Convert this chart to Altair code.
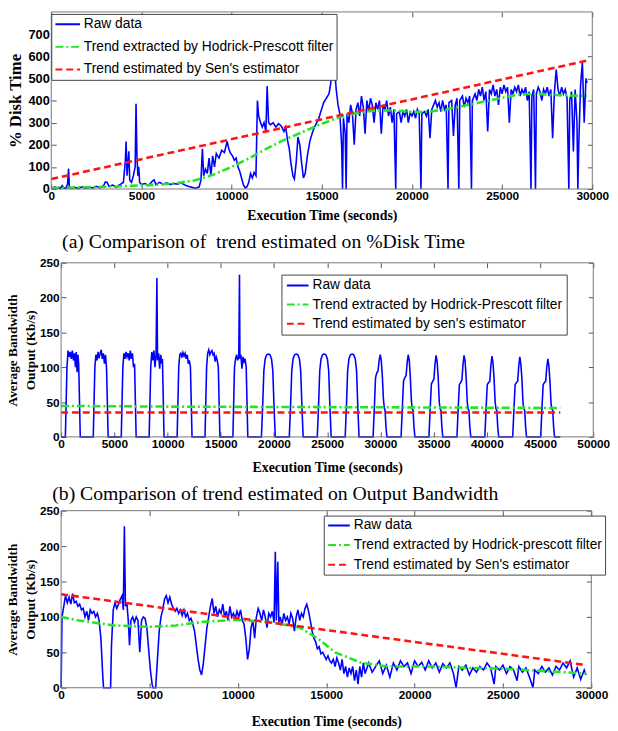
import altair as alt
import pandas as pd

BLUE = "#0000ff"
GREEN = "#22e622"
RED = "#ff1414"
DASHES = [[1, 0], [8, 3, 2, 3], [7, 4]]

# ---------------- Panel (a): %Disk Time ----------------
a_names = ["Raw data", "Trend extracted by Hodrick-Prescott filter", "Trend estimated by Sen's estimator"]
a_raw_x = [0, 100, 200, 300, 400, 500, 600, 700, 800, 900, 960, 1000, 1100, 1300, 1500, 1700, 1900, 2100, 2300, 2500,
           2700, 2900, 3000, 3100, 3200, 3400, 3600, 3800, 4000, 4100, 4150, 4200, 4300, 4350, 4450, 4550, 4650, 4700,
           4750, 4800, 4850, 4900, 5000, 5200, 5400, 5600, 5700, 5800, 6000, 6200, 6400, 6600, 6800, 7000, 7200, 7400,
           7600, 7800, 8000, 8200, 8300, 8380, 8450, 8550, 8650, 8750, 8850, 8950, 9050, 9150, 9300, 9450, 9600, 9750,
           9850, 9950, 10050, 10150, 10250, 10350, 10450, 10550, 10650, 10750, 10850, 10950, 11050, 11150, 11250, 11350,
           11430, 11500, 11600, 11700, 11800, 11900, 11970, 12050, 12150, 12300, 12450, 12600, 12750, 12900, 13000,
           13100, 13200, 13300, 13400, 13480, 13580, 13680, 13780, 13880, 13980, 14080, 14200, 14350, 14500, 14650,
           14800, 14950, 15100, 15250, 15400, 15500, 15560, 15620, 15700, 15800, 15900, 16000, 16100, 16150, 16200,
           16300, 16350, 16400, 16500, 16600, 16700, 16800, 16900, 17000, 17100, 17200, 17300, 17400, 17500, 17600,
           17700, 17800, 17900, 18000, 18100, 18200, 18300, 18400, 18500, 18600, 18700, 18800, 18900, 19000, 19100,
           19150, 19300, 19400, 19500, 19600, 19700, 19800, 19900, 20000, 20100, 20200, 20300, 20400, 20500, 20550,
           20700, 20800, 20900, 21000, 21100, 21200, 21300, 21400, 21500, 21600, 21700, 21800, 21900, 22000, 22050,
           22200, 22300, 22400, 22500, 22600, 22650, 22800, 22900, 23000, 23100, 23200, 23300, 23350, 23500, 23600,
           23700, 23800, 23900, 24000, 24100, 24200, 24300, 24400, 24500, 24600, 24700, 24800, 24900, 25000, 25100,
           25200, 25300, 25400, 25500, 25600, 25700, 25800, 25900, 26000, 26100, 26200, 26300, 26400, 26500, 26600,
           26650, 26750, 26850, 26900, 27000, 27100, 27200, 27300, 27400, 27500, 27600, 27700, 27800, 27900, 28000,
           28100, 28200, 28300, 28400, 28500, 28600, 28700, 28750, 28850, 28950, 29050, 29150, 29200, 29250, 29350,
           29450, 29550, 29650, 29700]
a_raw_y = [5, 2, 10, 3, 8, 2, 15, 5, 3, 20, 92, 10, 3, 8, 2, 10, 3, 8, 5, 12,
           5, 15, 32, 30, 12, 18, 8, 20, 30, 120, 215, 60, 170, 40, 30, 60, 100, 385,
           150, 60, 100, 30, 20, 25, 15, 35, 42, 20, 30, 22, 28, 20, 25, 22, 28, 18,
           12, 8, 3, 10, 40, 182, 60, 90, 70, 140, 60, 150, 100, 160, 140, 175, 165, 215,
           180, 160, 150, 130, 140, 100, 80, 50, 20, 5, 10, 30, 70, 50, 75, 60,
           400, 330, 300, 280, 300, 260, 465, 300, 290, 300, 280, 295, 285, 260, 280,
           220, 180, 110, 60, 45, 120, 235, 200, 120, 50, 70, 150, 220, 260, 290,
           310, 350, 390, 410, 430, 480, 605, 520, 550, 450, 380, 340, 200, 0, 320,
           250, 0, 340, 300, 380, 340, 200, 360, 390, 330, 420, 370, 250, 400, 350,
           410, 380, 300, 390, 360, 400, 250, 380, 360, 400, 330, 370, 300, 360, 0,
           340, 350, 300, 350, 330, 360, 300, 345, 330, 350, 320, 360, 340, 0, 340,
           350, 330, 360, 230, 360, 380, 400, 370, 390, 350, 400, 360, 380, 0, 390,
           400, 240, 380, 410, 0, 400, 420, 370, 410, 390, 420, 0, 400, 430, 400,
           450, 420, 460, 400, 440, 260, 450, 430, 470, 420, 450, 380, 460, 430, 470,
           440, 460, 300, 450, 430, 460, 440, 470, 420, 450, 430, 460, 400, 440, 0,
           420, 450, 0, 430, 460, 440, 400, 450, 430, 460, 420, 450, 230, 440, 540,
           450, 420, 460, 430, 450, 410, 0, 400, 440, 170, 450, 300, 0, 200, 470,
           572, 300, 500, 480]
a_hp_x = [0, 2000, 4000, 6000, 7000, 8000, 9000, 10000, 11000, 12000, 13000, 14000, 15000, 16000, 17000, 18000,
          19000, 20000, 21000, 22000, 23000, 24000, 25000, 26000, 27000, 28000, 29000, 29700]
a_hp_y = [5, 8, 13, 20, 27, 40, 65, 100, 140, 185, 225, 260, 295, 325, 345, 355,
          355, 348, 350, 362, 378, 395, 412, 428, 430, 425, 422, 420]
a_sen_x = [0, 29700]
a_sen_y = [45, 580]

# ---------------- Panel (b): Output Bandwidth ----------------
b_names = ["Raw data", "Trend extracted by Hodrick-Prescott filter", "Trend estimated by sen's estimator"]
b_raw_x = [0, 400, 550, 650, 750, 850, 950, 1050, 1150, 1250, 1350, 1420, 1500, 1580, 1650, 1800,
           3020, 3170, 3270, 3370, 3470, 3570, 3670, 3770, 3870, 3970, 4070, 4170, 4270, 4420,
           5650, 5800, 5900, 6000, 6100, 6200, 6300, 6400, 6500, 6600, 6700, 6800, 6900, 7050,
           8270, 8420, 8520, 8620, 8720, 8820, 8920, 9000, 9060, 9160, 9260, 9360, 9460, 9520, 9670,
           10900, 11050, 11150, 11250, 11350, 11450, 11550, 11650, 11750, 11850, 11950, 12050, 12150, 12300,
           13520, 13670, 13770, 13870, 13970, 14070, 14170, 14270, 14370, 14470, 14570, 14670, 14770, 14920,
           16140, 16290, 16390, 16490, 16590, 16690, 16760, 16800, 16890, 16990, 17090, 17190, 17290, 17390, 17540,
           18820, 18950, 19050, 19170, 19320, 19470, 19620, 19770, 19890, 19990, 20120,
           21440, 21570, 21670, 21790, 21940, 22090, 22240, 22390, 22510, 22610, 22740,
           24070, 24200, 24300, 24420, 24570, 24720, 24870, 25020, 25140, 25240, 25370,
           26690, 26820, 26920, 27040, 27190, 27340, 27490, 27640, 27760, 27860, 27990,
           29310, 29440, 29540, 29660, 29780, 29880, 29980, 30080, 30180, 30280, 30360, 30440, 30520, 30610,
           31940, 32070, 32170, 32290, 32410, 32510, 32610, 32710, 32810, 32910, 32990, 33070, 33150, 33240,
           34560, 34690, 34790, 34910, 35030, 35130, 35230, 35330, 35430, 35530, 35610, 35690, 35770, 35860,
           37190, 37320, 37420, 37540, 37660, 37760, 37860, 37960, 38060, 38160, 38240, 38320, 38400, 38490,
           39810, 39940, 40040, 40160, 40280, 40380, 40480, 40580, 40680, 40780, 40860, 40940, 41020, 41110,
           42430, 42560, 42660, 42780, 42900, 43000, 43100, 43200, 43300, 43400, 43480, 43560, 43640, 43730,
           45060, 45190, 45290, 45410, 45530, 45630, 45730, 45830, 45930, 46030, 46110, 46190, 46270, 46360, 46900]
b_raw_y = [0, 0, 100, 124, 115, 122, 112, 124, 110, 120, 100, 122, 93, 118, 105, 0,
           0, 100, 118, 110, 122, 113, 120, 125, 112, 120, 105, 118, 98, 0,
           0, 100, 120, 112, 122, 115, 120, 110, 124, 112, 120, 100, 105, 0,
           0, 100, 122, 110, 124, 100, 118, 228, 110, 120, 98, 118, 105, 112, 0,
           0, 100, 118, 120, 114, 121, 116, 120, 112, 118, 105, 110, 100, 0,
           0, 100, 120, 125, 118, 122, 124, 118, 120, 108, 115, 110, 100, 0,
           0, 100, 112, 118, 110, 115, 233, 112, 118, 98, 115, 108, 112, 100, 0,
           0, 50, 95, 112, 118, 119, 118, 112, 95, 50, 0,
           0, 50, 95, 112, 118, 119, 118, 112, 95, 50, 0,
           0, 50, 95, 112, 118, 119, 118, 112, 95, 50, 0,
           0, 50, 95, 112, 118, 119, 118, 112, 95, 50, 0,
           0, 45, 85, 92, 95, 110, 118, 110, 88, 55, 42, 38, 15, 0,
           0, 45, 80, 85, 88, 106, 118, 110, 86, 52, 40, 38, 15, 0,
           0, 45, 76, 80, 83, 105, 117, 108, 85, 50, 40, 38, 15, 0,
           0, 45, 75, 78, 82, 104, 117, 108, 84, 50, 40, 38, 15, 0,
           0, 45, 75, 78, 80, 103, 116, 106, 83, 50, 40, 38, 15, 0,
           0, 45, 75, 78, 80, 102, 115, 104, 82, 48, 40, 38, 15, 0,
           0, 45, 75, 78, 80, 100, 112, 102, 80, 48, 40, 38, 15, 0, 0]
b_hp_x = [0, 10000, 20000, 30000, 40000, 46900]
b_hp_y = [44.5, 43.5, 43, 42.5, 42, 41.5]
b_sen_x = [0, 46900]
b_sen_y = [35, 35]

# ---------------- Panel (c): Output Bandwidth ----------------
c_names = ["Raw data", "Trend extracted by Hodrick-prescott filter", "Trend estimated by Sen's estimator"]
c_raw_x = [0, 50, 150, 250, 350, 450, 550, 650, 750, 850, 950, 1050, 1150, 1250, 1350, 1450, 1550, 1650, 1750,
           1850, 1950, 2050, 2150, 2250, 2350, 2400, 2800, 2850, 2950, 3050, 3150, 3250, 3350, 3450, 3520, 3580,
           3640, 3720, 3800, 3870, 3950, 4050, 4150, 4250, 4350, 4450, 4550, 4650, 4750, 4850, 4950, 5050, 5150,
           5200, 5350, 5450, 5550, 5650, 5750, 5850, 5950, 6050, 6150, 6250, 6350, 6450, 6550, 6650, 6750, 6850,
           6950, 7050, 7150, 7250, 7350, 7450, 7550, 7650, 7750, 7850, 7950, 8050, 8150, 8250, 8350, 8450, 8550,
           8650, 8750, 8850, 8950, 9050, 9150, 9250, 9350, 9450, 9550, 9650, 9750, 9850, 9950, 10050, 10150, 10250,
           10350, 10450, 10550, 10650, 10750, 10850, 10950, 11050, 11150, 11250, 11350, 11450, 11550, 11650, 11750,
           11850, 11950, 12050, 12120, 12180, 12260, 12320, 12400, 12500, 12600, 12700, 12800, 12900, 13000, 13100,
           13200, 13300, 13400, 13500, 13600, 13700, 13800, 13900, 14000, 14100, 14200, 14300, 14400, 14500, 14600,
           14700, 14800, 14900, 15000, 15100, 15200, 15300, 15400, 15500, 15600, 15700, 15800, 15900, 16000, 16100,
           16200, 16300, 16400, 16500, 16600, 16700, 16800, 16900, 17000, 17100, 17200, 17400, 17600, 17800, 18000,
           18200, 18400, 18600, 18800, 19000, 19200, 19400, 19600, 19800, 20000, 20200, 20400, 20600, 20800, 21000,
           21200, 21400, 21600, 21800, 22000, 22200, 22350, 22500, 22700, 22900, 23100, 23300, 23500, 23700, 23900,
           24100, 24300, 24500, 24600, 24800, 25000, 25200, 25400, 25600, 25800, 25900, 26100, 26300, 26500, 26700,
           26800, 27000, 27200, 27400, 27600, 27800, 28000, 28200, 28400, 28600, 28800, 29000, 29200, 29400, 29600,
           29700]
c_raw_y = [0, 100, 115, 130, 120, 128, 118, 133, 120, 122, 115, 118, 110, 112, 100, 108, 95, 110, 105,
           108, 100, 105, 95, 70, 20, 0, 0, 60, 110, 120, 112, 118, 125, 130, 110, 228,
           115, 120, 95, 60, 95, 100, 92, 100, 95, 50, 95, 100, 98, 85, 55, 25, 5,
           0, 0, 40, 80, 100, 110, 125, 130, 120, 128, 118, 112, 108, 112, 105, 110, 102,
           110, 100, 105, 95, 98, 90, 80, 60, 40, 25, 18, 35, 60, 85, 100, 115, 126,
           105, 115, 100, 110, 105, 118, 100, 108, 95, 115, 100, 105, 98, 108, 100, 110, 95,
           90, 70, 40, 55, 85, 95, 70, 100, 112, 105, 95, 110, 100, 85, 105,
           100, 108, 92, 192, 95, 178, 92, 100, 88, 105, 95, 100, 90, 105, 98,
           80, 100, 110, 95, 105, 100, 112, 118, 108, 95, 80, 70, 65, 55, 58,
           48, 50, 45, 40, 45, 38, 35, 40, 30, 42, 35, 25, 40, 20, 30,
           15, 28, 20, 30, 10, 25, 5, 30, 15, 35, 20, 35, 22, 30, 38,
           20, 32, 15, 35, 25, 38, 30, 35, 20, 38, 30, 36, 25, 38, 28,
           35, 22, 34, 28, 35, 20, 0, 30, 25, 32, 18, 28, 22, 30, 25,
           35, 28, 5, 30, 25, 32, 20, 30, 25, 10, 30, 22, 28, 15, 0,
           25, 20, 30, 22, 28, 18, 30, 25, 35, 28, 38, 15, 28, 12, 25,
           18]
c_hp_x = [0, 1000, 3000, 5000, 6500, 8000, 10000, 12000, 13500, 14500, 15500, 17000, 18500, 21000, 23000, 25000,
          27000, 29700]
c_hp_y = [100, 95, 88, 86, 88, 93, 96, 92, 85, 70, 50, 35, 30, 30, 28, 27, 24, 20]
c_sen_x = [0, 29700]
c_sen_y = [132, 32]

LABEL_FONT = "Liberation Sans"
TITLE_FONT = "Liberation Serif"
FRAME = "#777777"


def panel(raw_x, raw_y, hp_x, hp_y, sen_x, sen_y, names, w, h, xmax, xticks, ymax, yticks,
          ytitle, ytitle_size, ylabel_size, lx, ly, leg_font, leg_pad, row_pad, sym,
          y_ext, y_tpad, y_off, x_tpad, x_range=None, title=None):
    raw = pd.DataFrame({"t": raw_x, "v": raw_y, "s": names[0]})
    hp = pd.DataFrame({"t": hp_x, "v": hp_y, "s": names[1]})
    sen = pd.DataFrame({"t": sen_x, "v": sen_y, "s": names[2]})
    box = pd.DataFrame({"x0": [0], "x1": [xmax], "y0": [0], "y1": [ymax]})

    leg = alt.Legend(orient="none", legendX=lx, legendY=ly, title=None, fillColor="white",
                     strokeColor="#444", padding=leg_pad, labelFont=LABEL_FONT, labelFontSize=leg_font,
                     labelColor="black", symbolType="M-1,0H3", symbolSize=sym * sym, symbolStrokeWidth=2,
                     rowPadding=row_pad, labelOffset=sym + 2.5, labelLimit=600)
    color = alt.Color("s:N", scale=alt.Scale(domain=names, range=[BLUE, GREEN, RED]), legend=leg)
    dash = alt.StrokeDash("s:N", scale=alt.Scale(domain=names, range=DASHES), legend=leg)

    if x_range is None:
        xs = alt.Scale(domain=[0, xmax], nice=False, zero=False)
    else:
        xs = alt.Scale(domain=[0, xmax], range=x_range, nice=False, zero=False)
    ys = alt.Scale(domain=[0, ymax], nice=False, zero=False)
    common = dict(tickSize=5, domain=False, tickColor="#555", grid=False, format="d",
                  labelFlush=False, labelOverlap=False, labelFont=LABEL_FONT,
                  labelFontWeight="bold", labelColor="black", titleFont=TITLE_FONT,
                  titleFontWeight="bold", titleColor="black")
    xa = alt.Axis(values=xticks, title="Execution Time (seconds)", labelPadding=2, offset=-5,
                  labelFontSize=12, titleFontSize=14, titlePadding=x_tpad, **common)
    ya = alt.Axis(values=yticks, title=ytitle, labelPadding=2, offset=y_off, labelFontSize=ylabel_size,
                  titleFontSize=ytitle_size, titlePadding=y_tpad, minExtent=y_ext, maxExtent=y_ext,
                  titleLineHeight=18, **common)

    base_enc = dict(x=alt.X("t:Q", scale=xs, axis=xa), y=alt.Y("v:Q", scale=ys, axis=ya),
                    color=color, strokeDash=dash)
    l_raw = alt.Chart(raw).mark_line(strokeWidth=1.6).encode(**base_enc)
    l_hp = alt.Chart(hp).mark_line(strokeWidth=2.6).encode(**base_enc)
    l_sen = alt.Chart(sen).mark_line(strokeWidth=2.6).encode(**base_enc)
    lines = alt.layer(l_raw, l_hp, l_sen)

    tick_common = dict(tickSize=5, offset=-5, domain=False, tickColor="#555", grid=False,
                       labels=False, title=None, minExtent=0, maxExtent=0)
    frame = alt.Chart(box).mark_rect(fillOpacity=0, stroke=FRAME, strokeWidth=1).encode(
        x=alt.X("x0:Q", scale=xs, axis=alt.Axis(orient="top", values=xticks, **tick_common)),
        x2="x1:Q",
        y=alt.Y("y0:Q", scale=ys, axis=alt.Axis(orient="right", values=yticks, **tick_common)),
        y2="y1:Q",
    )
    ch = alt.layer(lines, frame).resolve_axis(x="independent", y="independent")
    props = dict(width=w, height=h, view=alt.ViewBackground(stroke=None))
    if title is not None:
        props["title"] = title
    return ch.properties(**props)


p1 = panel(a_raw_x, a_raw_y, a_hp_x, a_hp_y, a_sen_x, a_sen_y, a_names, 540, 180, 30000,
           [0, 5000, 10000, 15000, 20000, 25000, 30000], 800, [0, 100, 200, 300, 400, 500, 600, 700],
           "% Disk Time", 17, 13, -10, 2, 14, 3, 8, 12.5, 28, 4, 5, 7, x_range=[-10, 540])

cap_a = alt.TitleParams("(a) Comparison of\u00a0 trend estimated on %Disk Time", anchor="start", frame="group",
                        font=TITLE_FONT, fontSize=20, fontWeight="normal", color="black", offset=5, dx=1)
cap_b = alt.TitleParams("(b) Comparison of trend estimated on Output Bandwidth", anchor="start", frame="group",
                        font=TITLE_FONT, fontSize=20, fontWeight="normal", color="black", offset=1, dx=-9)

p2 = panel(b_raw_x, b_raw_y, b_hp_x, b_hp_y, b_sen_x, b_sen_y, b_names, 541, 177, 50000,
           list(range(0, 50001, 5000)), 250, [0, 50, 100, 150, 200, 250],
           ["Average Bandwidth", "Output (Kb/s)"], 13.5, 12, 224, 12, 14, 4, 5.5, 11,
           26, 3, -5, 11, title=cap_a)
p3 = panel(c_raw_x, c_raw_y, c_hp_x, c_hp_y, c_sen_x, c_sen_y, c_names, 539, 180, 30000,
           [0, 5000, 10000, 15000, 20000, 25000, 30000], 250, [0, 50, 100, 150, 200, 250],
           ["Average Bandwidth", "Output (Kb/s)"], 13.5, 12, 267, 5, 14, 3, 6, 11,
           26, 3, -5, 14, title=cap_b)

chart = alt.vconcat(p1, p2, p3, spacing=10).resolve_scale(
    color="independent", strokeDash="independent", x="independent", y="independent"
).configure_view(stroke=None).properties(padding={"left": -2, "top": -3, "right": 0, "bottom": 0})

chart.save("out.html", embed_options={"renderer": "svg", "actions": False})
